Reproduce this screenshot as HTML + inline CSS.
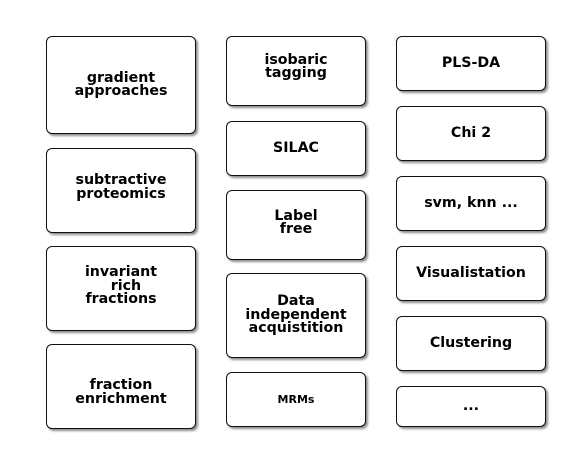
<!DOCTYPE html>
<html><head><style>
body{margin:0;width:580px;height:462px;background:#fff;position:relative;font-family:"DejaVu Sans","Liberation Sans",sans-serif;font-weight:bold;font-size:14.2px;color:#000}
.b{position:absolute;box-sizing:border-box;border:1px solid #111;border-radius:6px;background:#fff;box-shadow:2px 2px 2px rgba(0,0,0,0.45);display:flex;align-items:center;justify-content:center;text-align:center;line-height:13.5px;white-space:pre}
</style></head><body>
<div class="b" style="left:46px;top:36px;width:150px;height:98px">gradient
approaches</div>
<div class="b" style="left:46px;top:148px;width:150px;height:85px;padding-bottom:6px">subtractive
proteomics</div>
<div class="b" style="left:46px;top:246px;width:150px;height:85px;padding-bottom:4px">invariant
  rich
fractions</div>
<div class="b" style="left:46px;top:344px;width:150px;height:85px;padding-top:12px">fraction
enrichment</div>

<div class="b" style="left:226px;top:36px;width:140px;height:70px;padding-bottom:8px">isobaric
tagging</div>
<div class="b" style="left:226px;top:121px;width:140px;height:55px">SILAC</div>
<div class="b" style="left:226px;top:190px;width:140px;height:70px;padding-bottom:4px">Label
free</div>
<div class="b" style="left:226px;top:273px;width:140px;height:85px">Data
independent
acquistition</div>
<div class="b" style="left:226px;top:372px;width:140px;height:55px;font-size:11px">MRMs</div>

<div class="b" style="left:396px;top:36px;width:150px;height:55px">PLS-DA</div>
<div class="b" style="left:396px;top:106px;width:150px;height:55px">Chi 2</div>
<div class="b" style="left:396px;top:176px;width:150px;height:55px">svm, knn ...</div>
<div class="b" style="left:396px;top:246px;width:150px;height:55px">Visualistation</div>
<div class="b" style="left:396px;top:316px;width:150px;height:55px">Clustering</div>
<div class="b" style="left:396px;top:386px;width:150px;height:41px">...</div>
</body></html>
